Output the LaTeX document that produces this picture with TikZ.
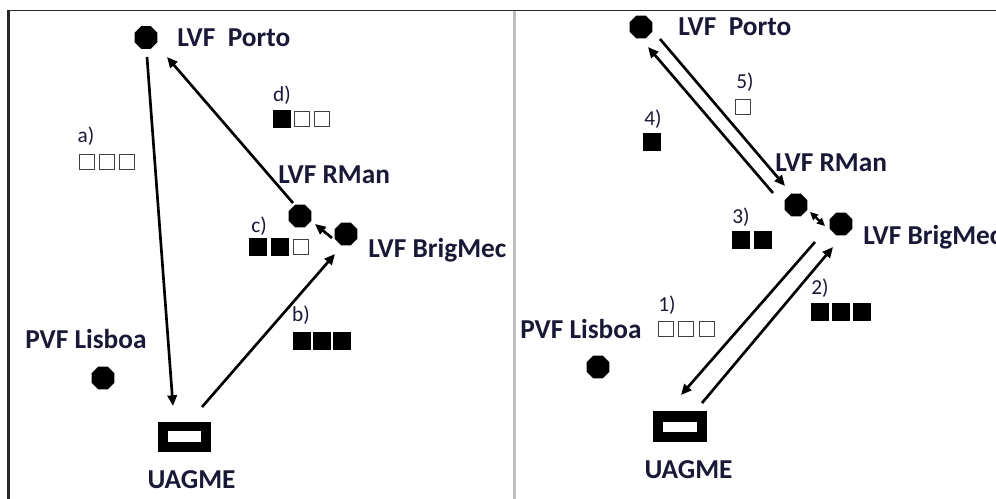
\documentclass[tikz,border=0pt]{standalone}
\usepackage{fontspec}
\setmainfont{Carlito}
\usetikzlibrary{arrows.meta,shapes.geometric}
\definecolor{txt}{RGB}{25,25,55}
\definecolor{sepgray}{RGB}{190,190,190}
\definecolor{frame}{RGB}{40,40,40}
\begin{document}
\begin{tikzpicture}[x=0.75pt,y=-0.75pt,
 dot/.style={regular polygon,regular polygon sides=8,fill=black,inner sep=0pt,minimum size=18.5pt},
 place/.style={font=\fontsize{20.5}{22}\selectfont\bfseries,text=txt,anchor=west,inner sep=0pt},
 lab/.style={font=\fontsize{16}{18}\selectfont,text=txt,inner sep=0pt},
 fsq/.style={fill=black,minimum size=13pt,inner sep=0pt},
 esq/.style={draw=black!75,line width=0.75pt,minimum size=11.5pt,inner sep=0pt},
 arr/.style={line width=2pt,-{Triangle[length=8pt,width=7pt]}},
 darr/.style={line width=1.7pt,{Triangle[length=6pt,width=5.5pt]}-{Triangle[length=6pt,width=5.5pt]}},
 outbox/.style={fill=black,inner sep=0pt,minimum width=40pt,minimum height=22.75pt},
 inbox/.style={fill=white,inner sep=0pt,minimum width=25pt,minimum height=8.25pt},
]
\useasboundingbox (0,0) rectangle (996,499);
\fill[white] (0,0) rectangle (996,499);
\begin{scope}
\clip (0,0) rectangle (996,499);
% frame
\draw[frame,line width=1.4pt] (8,10.5) -- (996,10.5);
\draw[frame,line width=1.6pt] (8.5,10) -- (8.5,499);
\draw[sepgray,line width=1.6pt] (514.5,11) -- (514.5,499);

% ---------- left panel ----------
\node[dot] (Lporto) at (146,37.5) {};
\node[place] (LportoT) at (177,38) {LVF\ \ Porto};
\node[dot] (Lrman) at (300,216) {};
\node[place] (LrmanT) at (278,175) {LVF RMan};
\node[dot] (Lbrig) at (346,234) {};
\node[place] (LbrigT) at (368,250) {LVF BrigMec};
\node[place] (LlisT) at (25,339) {PVF Lisboa};
\node[dot] (Llis) at (103,378) {};
\node[outbox] (Luag) at (184.5,437) {};
\node[inbox] (Luagin) at (184.5,436.5) {};
\node[place,anchor=center] (LuagT) at (191.5,480) {UAGME};

\node[lab] (La) at (86,136) {a)};
\node[esq] (La1) at (87,162) {};
\node[esq] (La2) at (107,162) {};
\node[esq] (La3) at (127,162) {};

\node[lab] (Ld) at (282,95) {d)};
\node[fsq] (Ld1) at (282,119) {};
\node[esq] (Ld2) at (302,119) {};
\node[esq] (Ld3) at (322,119) {};

\node[lab] (Lc) at (259,226) {c)};
\node[fsq] (Lc1) at (258,247) {};
\node[fsq] (Lc2) at (280,247) {};
\node[esq] (Lc3) at (301,247) {};

\node[lab] (Lb) at (301,315) {b)};
\node[fsq] (Lb1) at (302,341) {};
\node[fsq] (Lb2) at (322,341) {};
\node[fsq] (Lb3) at (342,341) {};

\coordinate (LaS) at (147,57);
\coordinate (LaE) at (173,406);
\coordinate (LdS) at (293,203);
\coordinate (LdE) at (167,57);
\coordinate (LcS) at (332,238);
\coordinate (LcE) at (315,224);
\coordinate (LbS) at (202,407);
\coordinate (LbE) at (335,254);
\draw[arr] (LaS) -- (LaE);
\draw[arr] (LdS) -- (LdE);
\draw[arr] (LcS) -- (LcE);
\draw[arr] (LbS) -- (LbE);

% ---------- right panel ----------
\node[dot] (Rporto) at (641,27) {};
\node[place] (RportoT) at (678,27) {LVF\ \ Porto};
\node[dot] (Rrman) at (796,205) {};
\node[place] (RrmanT) at (775,163) {LVF RMan};
\node[dot] (Rbrig) at (841,224) {};
\node[place] (RbrigT) at (863,237) {LVF BrigMec};
\node[place] (RlisT) at (520,329) {PVF Lisboa};
\node[dot] (Rlis) at (598,367) {};
\node[outbox,minimum width=40.5pt,minimum height=23.25pt] (Ruag) at (680,426.5) {};
\node[inbox,minimum width=25.5pt,minimum height=7.5pt] (Ruagin) at (680,427) {};
\node[place,anchor=center] (RuagT) at (688.5,470) {UAGME};

\node[lab] (R5) at (745,82) {5)};
\node[esq] (R5a) at (743,107) {};
\node[lab] (R4) at (653,119) {4)};
\node[fsq] (R4a) at (652,142) {};
\node[lab] (R3) at (741,217) {3)};
\node[fsq] (R3a) at (741,240) {};
\node[fsq] (R3b) at (763,240) {};
\node[lab] (R2) at (820,288) {2)};
\node[fsq] (R2a) at (820,312) {};
\node[fsq] (R2b) at (841,312) {};
\node[fsq] (R2c) at (862,312) {};
\node[lab] (R1) at (667,305) {1)};
\node[esq] (R1a) at (666,329) {};
\node[esq] (R1b) at (686,329) {};
\node[esq] (R1c) at (707,329) {};

\coordinate (R4S) at (773,193);
\coordinate (R4E) at (648,47);
\coordinate (R5S) at (660,39);
\coordinate (R5E) at (785,186);
\coordinate (R3S) at (810,212);
\coordinate (R3E) at (825,226);
\coordinate (R1S) at (815,242);
\coordinate (R1E) at (681,395);
\coordinate (R2S) at (702,403);
\coordinate (R2E) at (833,247);
\draw[arr] (R4S) -- (R4E);
\draw[arr] (R5S) -- (R5E);
\draw[darr] (R3S) -- (R3E);
\draw[arr] (R1S) -- (R1E);
\draw[arr] (R2S) -- (R2E);
\end{scope}
\end{tikzpicture}
\end{document}
